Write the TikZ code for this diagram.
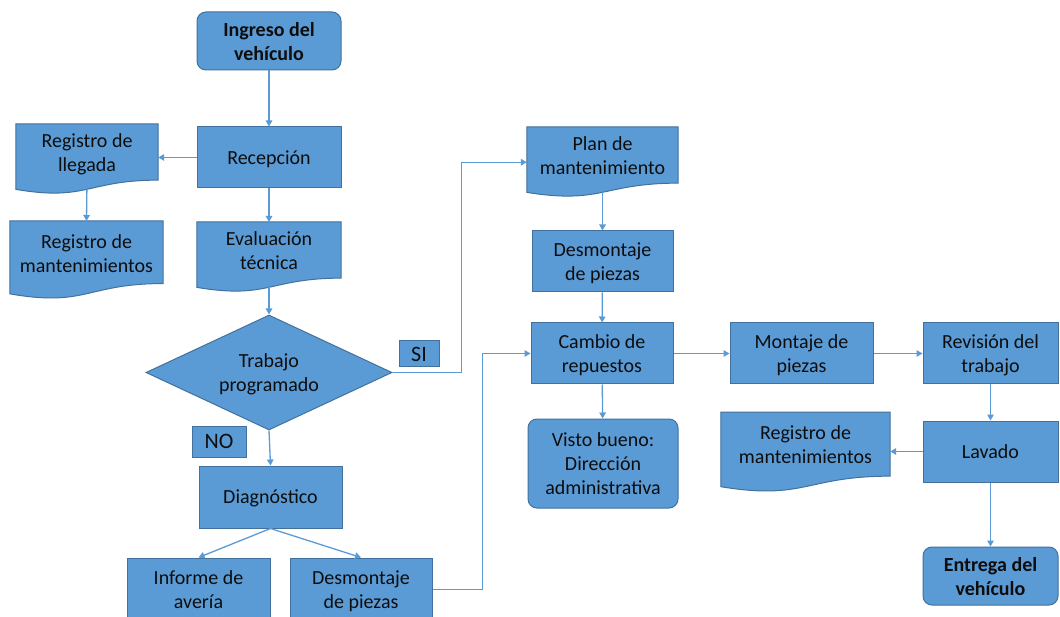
\documentclass[tikz,border=0pt]{standalone}
\usepackage{fontspec}
\setmainfont{Carlito}
\usetikzlibrary{shapes.geometric,arrows.meta,calc,backgrounds}
\definecolor{boxfill}{HTML}{5B9BD5}
\definecolor{boxline}{HTML}{41719C}
\definecolor{wire}{HTML}{5B9BD5}
\definecolor{ink}{HTML}{0D0D0D}
\tikzset{
  base/.style={font=\fontsize{20}{24}\selectfont, text=ink, align=center, inner sep=0pt, text depth=0pt},
  procbox/.style={base, rectangle, fill=boxfill, draw=boxline, line width=1pt},
  termbox/.style={procbox, rounded corners=9pt},
  docbox/.style={base, rectangle, anchor=north},
  decision/.style={base, diamond, aspect=2.14, fill=boxfill, draw=boxline, line width=1pt,
                   minimum width=246pt, minimum height=115pt},
  tag/.style={procbox, font=\fontsize{22}{24}\selectfont},
  link/.style={draw=wire, line width=1.3pt, -{Triangle[length=6pt,width=6.5pt]}},
  docpaint/.style={fill=boxfill, draw=boxline, line width=1pt},
}
% document symbol behind a node: #1 node name, #2 full height (wavy bottom edge)
\newcommand\docshape[2]{%
  \filldraw[docpaint] (#1.north west) -- (#1.north east)
    -- ($(#1.north east)+(0,0.802*#2)$)
    .. controls ($(#1.north)+(0,0.802*#2)$) and ($(#1.north)+(0,1.107*#2)$)
    .. ($(#1.north west)+(0,0.934*#2)$) -- cycle;}
\begin{document}
\begin{tikzpicture}[x=1pt,y=-1pt]
\useasboundingbox (0,0) rectangle (1060,617);

% left column
\node[termbox, minimum width=144pt, minimum height=58pt] (ingreso) at (269,41) {\textbf{Ingreso del}\\\textbf{vehículo}};
\node[procbox, minimum width=144pt, minimum height=61pt] (recepcion) at (269,157.5) {Recepción};
\node[docbox, minimum width=142pt, minimum height=56pt] (llegada) at (87,124) {Registro de\\llegada};
\node[docbox, minimum width=153pt, minimum height=64pt] (regmantA) at (86.5,221) {Registro de\\mantenimientos};
\node[docbox, minimum width=144pt, minimum height=56pt] (evaluacion) at (269,222) {Evaluación\\técnica};
\node[decision] (trabajo) at (269,372.5) {Trabajo\\programado};
\node[tag, minimum width=40pt, minimum height=26pt] (si) at (419,354) {SI};
\node[tag, minimum width=54pt, minimum height=31pt] (no) at (219,441.5) {NO};
\node[procbox, minimum width=143pt, minimum height=62pt] (diagnostico) at (270.5,497) {Diagnóstico};
\node[procbox, minimum width=143pt, minimum height=63pt] (informe) at (198.5,589.5) {Informe de\\avería};
\node[procbox, minimum width=142pt, minimum height=63pt] (desmontajeA) at (361,589.5) {Desmontaje\\de piezas};

% middle column
\node[docbox, minimum width=151pt, minimum height=56pt] (plan) at (602.5,127) {Plan de\\mantenimiento};
\node[procbox, minimum width=141pt, minimum height=61pt] (desmontajeB) at (602.5,261.5) {Desmontaje\\de piezas};
\node[procbox, minimum width=142pt, minimum height=61pt] (cambio) at (602,353.5) {Cambio de\\repuestos};
\node[termbox, minimum width=150pt, minimum height=89pt] (visto) at (603,463.5) {Visto bueno:\\Dirección\\administrativa};

% right columns
\node[procbox, minimum width=143pt, minimum height=61pt] (montaje) at (801.5,353.5) {Montaje de\\piezas};
\node[procbox, minimum width=135pt, minimum height=61pt] (revision) at (990.5,353.5) {Revisión del\\trabajo};
\node[procbox, minimum width=135pt, minimum height=61pt] (lavado) at (990.5,451.5) {Lavado};
\node[docbox, minimum width=169pt, minimum height=64pt] (regmantB) at (805.5,412) {Registro de\\mantenimientos};
\node[termbox, minimum width=135pt, minimum height=58pt] (entrega) at (990.5,576) {\textbf{Entrega del}\\\textbf{vehículo}};

% document symbols, painted beneath their labels
\begin{scope}[on background layer]
  \fill[white] (0,0) rectangle (1060,617);
  \docshape{llegada}{70}
  \docshape{regmantA}{78}
  \docshape{evaluacion}{70}
  \docshape{plan}{70}
  \docshape{regmantB}{80}
\end{scope}

% connectors
\draw[link] (ingreso) -- (recepcion);
\draw[link] (recepcion.west) -- (recepcion.west -| llegada.east);
\draw[link, shorten <=9pt] (llegada.south) -- (regmantA.north);
\draw[link] (recepcion) -- (evaluacion);
\draw[link, shorten <=9pt] (evaluacion.south) -- (trabajo.north);
\draw[link] (trabajo.east) -- ++(69,0) |- ($(plan.west)+(0,7)$);
\draw[link] (trabajo.south) -- (diagnostico.north);
\draw[link] (diagnostico.south) -- (informe.north);
\draw[link] (diagnostico.south) -- (desmontajeA.north);
\draw[link] (desmontajeA.east) -- ++(50,0) |- (cambio.west);
\draw[link, shorten <=9pt] (plan.south) -- (desmontajeB.north);
\draw[link] (desmontajeB) -- (cambio);
\draw[link] (cambio) -- (visto);
\draw[link] (cambio) -- (montaje);
\draw[link] (montaje) -- (revision);
\draw[link] (revision) -- (lavado);
\draw[link] (lavado.west) -- (lavado.west -| regmantB.east);
\draw[link] (lavado) -- (entrega);
\end{tikzpicture}
\end{document}
